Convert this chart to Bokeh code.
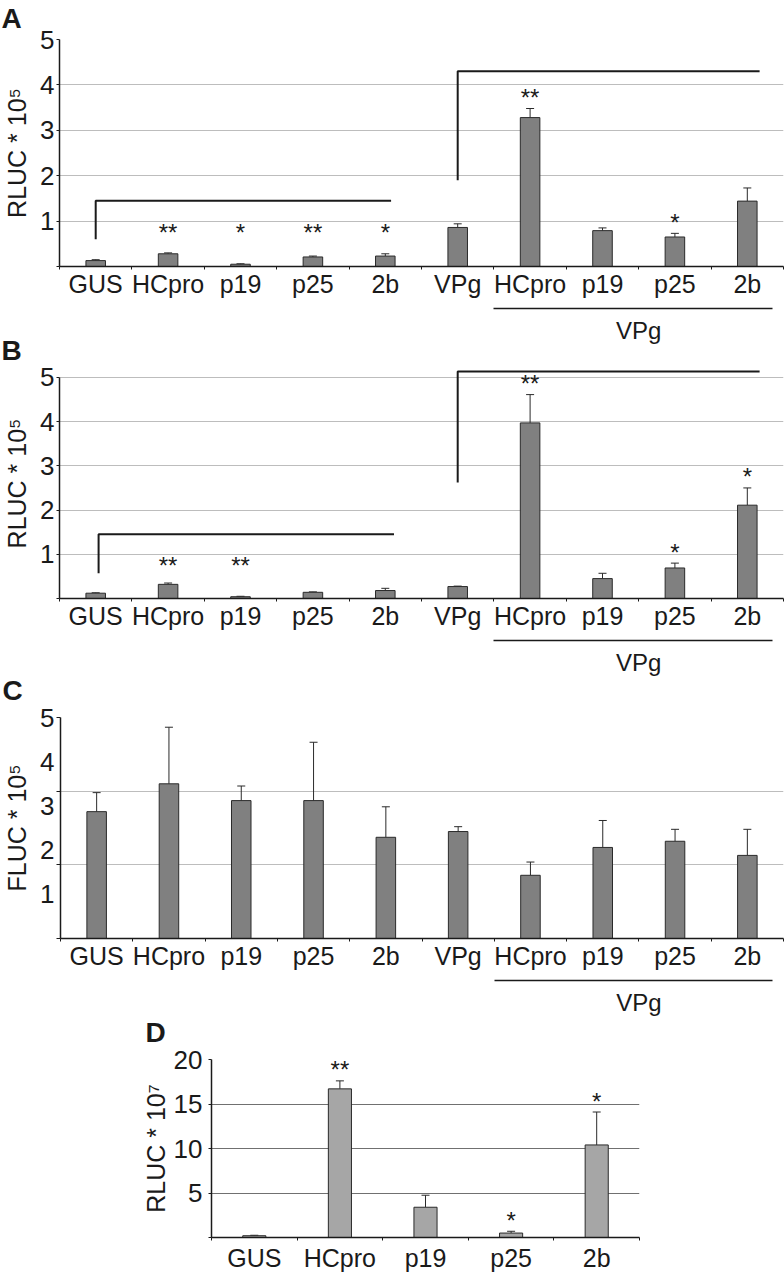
from bokeh.plotting import figure
from bokeh.layouts import column
from bokeh.models import FixedTicker, Range1d, LinearAxis, Whisker, ColumnDataSource, TeeHead
from bokeh.embed import file_html
from bokeh.resources import INLINE
from bokeh.core.properties import value

FONT = "Liberation Sans"
INK = "#1a1a1a"

# ---------------- data ----------------
categories = ["GUS", "HCpro", "p19", "p25", "2b", "VPg", "HCpro", "p19", "p25", "2b"]
vpg_group = [6, 7, 8, 9]          # indices co-expressed with VPg
group_label = "VPg"

a_values = [0.13, 0.28, 0.05, 0.21, 0.23, 0.86, 3.28, 0.79, 0.65, 1.44]
a_errors = [0.02, 0.02, 0.01, 0.02, 0.05, 0.08, 0.20, 0.06, 0.08, 0.29]
a_stars = ["", "**", "*", "**", "*", "", "**", "", "*", ""]
a_brackets_x = [[1, 1, 5.08], [6, 6, 10.17]]
a_brackets_y = [[0.6, 1.45, 1.45], [1.9, 4.3, 4.3]]

b_values = [0.12, 0.32, 0.04, 0.14, 0.18, 0.27, 3.97, 0.45, 0.69, 2.11]
b_errors = [0.01, 0.03, 0.01, 0.01, 0.05, 0.01, 0.64, 0.12, 0.11, 0.39]
b_stars = ["", "**", "**", "", "", "", "**", "", "*", "*"]
b_brackets_x = [[1.04, 1.04, 5.12], [6, 6, 10.17]]
b_brackets_y = [[0.57, 1.45, 1.45], [2.62, 5.13, 5.13]]

c_values = [2.87, 3.50, 3.12, 3.12, 2.29, 2.42, 1.43, 2.06, 2.20, 1.88]
c_errors = [0.43, 1.28, 0.33, 1.32, 0.69, 0.11, 0.30, 0.61, 0.27, 0.59]

d_categories = ["GUS", "HCpro", "p19", "p25", "2b"]
d_values = [0.2, 16.7, 3.4, 0.5, 10.4]
d_errors = [0.05, 0.9, 1.35, 0.2, 3.7]
d_stars = ["", "**", "", "*", "*"]

ylabel_5 = "RLUC * 10\u2075"
ylabel_f = "FLUC * 10\u2075"
ylabel_7 = "RLUC * 10\u2077"


def panel(letter, cats, vals, errs, ylabel, *, width, height, top, bottom, left, right,
          y_end, y_ticks, y_minor, y_bounds, grid_ticks, grid_color, bar_color,
          title_standoff, title_offset, stars=None, star_floor=0.0,
          brackets=None, group=None, margin_top=0, xlab_standoff=0, ylab_standoff=6,
          ytick_standoff=2):
    n = len(cats)
    xs = list(range(1, n + 1))
    p = figure(width=width, height=height, x_range=Range1d(0.5, n + 0.5),
               y_range=Range1d(0, y_end), output_backend="svg", toolbar_location=None,
               min_border_left=left, min_border_right=right,
               min_border_top=top, min_border_bottom=bottom, title=letter)
    try:
        p.frame_align = False
    except Exception:
        pass
    p.outline_line_color = None
    p.background_fill_color = None
    p.border_fill_color = None
    if margin_top:
        p.margin = (margin_top, 0, 0, 0)

    xa = p.below[0]
    ya = p.left[0]

    t = p.title
    t.align = "left"
    t.offset = title_offset
    t.standoff = title_standoff
    t.text_font = FONT
    t.text_font_size = "28px"
    t.text_font_style = "bold"
    t.text_color = INK

    # grid
    p.xgrid.visible = False
    p.ygrid.ticker = FixedTicker(ticks=grid_ticks)
    p.ygrid.grid_line_color = grid_color
    p.ygrid.grid_line_width = 1

    # y axis
    ya.ticker = FixedTicker(ticks=y_ticks, minor_ticks=y_minor)
    ya.bounds = y_bounds
    if 0 in y_ticks:
        ya.major_label_overrides = {0: ""}
    ya.axis_line_color = INK
    ya.axis_line_width = 1.5
    ya.major_tick_line_color = INK
    ya.minor_tick_line_color = INK
    if y_minor:
        ya.major_tick_out = 0
        ya.minor_tick_out = 4
    else:
        ya.major_tick_out = 3
        ya.minor_tick_out = 0
    ya.major_tick_in = 0
    ya.minor_tick_in = 0
    ya.major_label_standoff = ytick_standoff
    ya.major_label_text_font = FONT
    ya.major_label_text_font_size = "26px"
    ya.major_label_text_color = INK
    ya.axis_label = ylabel
    ya.axis_label_text_font = FONT
    ya.axis_label_text_font_size = "25px"
    ya.axis_label_text_font_style = "normal"
    ya.axis_label_text_color = INK
    ya.axis_label_standoff = ylab_standoff

    # x axis (labels at centres, ticks at category boundaries)
    xa.ticker = FixedTicker(ticks=xs, minor_ticks=[i + 0.5 for i in range(n + 1)])
    xa.major_label_overrides = {i + 1: c for i, c in enumerate(cats)}
    xa.axis_line_color = INK
    xa.axis_line_width = 1.5
    xa.major_tick_line_color = None
    xa.major_tick_out = 0
    xa.major_tick_in = 0
    xa.minor_tick_line_color = INK
    xa.minor_tick_out = 3
    xa.minor_tick_in = 0
    xa.major_label_standoff = xlab_standoff
    xa.major_label_text_font = FONT
    xa.major_label_text_font_size = "25px"
    xa.major_label_text_color = INK

    if group is not None:
        xa.axis_label = " "
        xa.axis_label_text_font_size = "4px"
        xa.axis_label_standoff = 0
        gxs = [xs[i] for i in group]
        centre = sum(gxs) / len(gxs)
        gax = LinearAxis(ticker=FixedTicker(ticks=[centre]),
                         bounds=(gxs[0] - 0.5, gxs[-1] + 0.35))
        gax.major_label_overrides = {centre: group_label}
        gax.axis_line_color = INK
        gax.axis_line_width = 1.5
        gax.major_tick_line_color = None
        gax.major_tick_out = 0
        gax.major_tick_in = 0
        gax.minor_tick_line_color = None
        gax.major_label_standoff = 8
        gax.major_label_text_font = FONT
        gax.major_label_text_font_size = "24px"
        gax.major_label_text_color = INK
        p.add_layout(gax, "below")

    # bars
    src = ColumnDataSource(dict(x=xs, top=vals, upper=[v + e for v, e in zip(vals, errs)]))
    p.vbar(x="x", top="top", width=0.27, bottom=0, source=src,
           fill_color=bar_color, line_color="#2a2a2a", line_width=1)
    wh = Whisker(source=src, base="x", lower="top", upper="upper", dimension="height",
                 line_color="#2a2a2a", line_width=1,
                 upper_head=TeeHead(size=8, line_color="#2a2a2a", line_width=1),
                 lower_head=None)
    p.add_layout(wh)

    # significance stars
    if stars is not None:
        sx, sy, st = [], [], []
        for x, v, e, s in zip(xs, vals, errs, stars):
            if s:
                sx.append(x)
                sy.append(max(v + e, star_floor))
                st.append(s)
        p.text(x=sx, y=sy, text=st, text_font=value(FONT), text_font_size="24px",
               text_align="center", text_baseline="alphabetic", y_offset=-11,
               text_color=INK)

    # comparison brackets
    if brackets is not None:
        p.multi_line(xs=brackets[0], ys=brackets[1], line_color=INK, line_width=2)

    return p


pA = panel("A", categories, a_values, a_errors, ylabel_5,
           width=784, height=354, top=47, bottom=80, left=58, right=1,
           y_end=5, y_ticks=[0, 1, 2, 3, 4, 5], y_minor=[], y_bounds=(0, 5),
           grid_ticks=[1, 2, 3, 4, 5], grid_color="#bdbdbd", bar_color="#808080",
           title_standoff=11, title_offset=-58, stars=a_stars, star_floor=0.5,
           brackets=(a_brackets_x, a_brackets_y), group=vpg_group, margin_top=-8)

pB = panel("B", categories, b_values, b_errors, ylabel_5,
           width=784, height=351, top=41, bottom=80, left=58, right=1,
           y_end=5.2, y_ticks=[0, 1, 2, 3, 4, 5], y_minor=[], y_bounds=(0, 5),
           grid_ticks=[1, 2, 3, 4, 5], grid_color="#bdbdbd", bar_color="#808080",
           title_standoff=5, title_offset=-58, stars=b_stars, star_floor=0.5,
           brackets=(b_brackets_x, b_brackets_y), group=vpg_group, margin_top=-19)

pC = panel("C", categories, c_values, c_errors, ylabel_f,
           width=784, height=369, top=68, bottom=78, left=58, right=1,
           y_end=5, y_ticks=[1, 2, 3, 4, 5], y_minor=[0, 5 / 3, 10 / 3, 5], y_bounds=(0, 5),
           grid_ticks=[5 / 3, 10 / 3, 5], grid_color="#bdbdbd", bar_color="#808080",
           title_standoff=24, title_offset=-58, group=vpg_group, margin_top=-29)

pD = panel("D", d_categories, d_values, d_errors, ylabel_7,
           width=784, height=280, top=65, bottom=34, left=211, right=145,
           y_end=20, y_ticks=[0, 5, 10, 15, 20], y_minor=[], y_bounds=(0, 20),
           grid_ticks=[5, 10, 15, 20], grid_color="#707070", bar_color="#a6a6a6",
           title_standoff=24, title_offset=-66, stars=d_stars, star_floor=0.0,
           margin_top=-24, xlab_standoff=3, ylab_standoff=1, ytick_standoff=6)

p = column(pA, pB, pC, pD)

open("out.html", "w").write(file_html(p, INLINE))
